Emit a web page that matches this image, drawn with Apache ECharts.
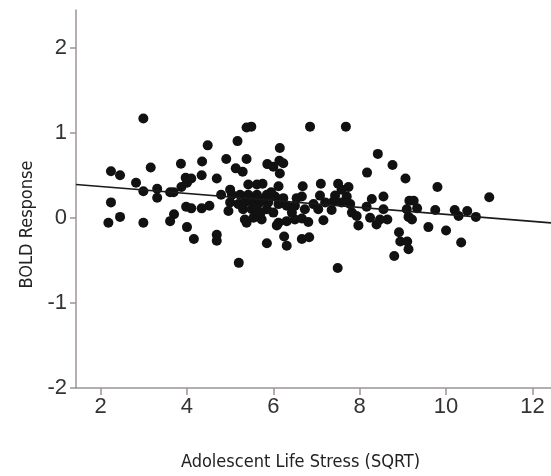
<!DOCTYPE html>
<html>
<head>
<meta charset="utf-8">
<script src="https://cdn.jsdelivr.net/npm/echarts@6/dist/echarts.min.js"></script>
<style>
html,body{margin:0;padding:0;background:#fff;}
#chart{width:551px;height:476px;}
</style>
</head>
<body>
<div id="chart"></div>
<script>
// Tick labels
var xTicks = [2, 4, 6, 8, 10, 12];
var yTicks = [-2, -1, 0, 1, 2];
var xRange = [1.43, 12.43];
var yRange = [-2, 2.44];

// Scatter points: stress (SQRT) values and BOLD responses
var stress = [
  2.24,2.45,2.24,2.18,2.45,2.99,3.16,2.82,2.99,2.99,3.31,3.31,3.61,3.69,3.86,3.87,4.0,3.97,4.1,3.98,4.1,3.70,3.61,4.0,4.16,4.34,4.35,4.48,4.34,4.52,4.69,4.69,4.69,4.79,4.91,
  5.13,5.17,5.29,5.38,5.38,5.49,5.20,5.86,6.0,6.15,6.14,6.23,6.15,
  5.42,5.62,5.75,6.12,5.0,5.04,5.23,5.42,5.62,5.85,6.04,6.23,6.54,5.0,5.19,5.34,5.50,5.69,5.88,6.12,6.31,6.50,4.96,5.30,5.50,5.65,5.85,6.0,6.43,5.34,5.54,5.73,6.12,6.31,6.50,5.38,5.85,6.25,6.31,6.08,
  5.45,5.58,5.78,5.95,5.70,
  6.85,7.68,7.49,8.17,
  6.68,7.10,7.50,7.74,7.58,6.66,7.08,7.43,7.70,8.28,8.55,6.93,7.20,7.39,7.58,7.78,8.16,8.55,7.04,7.35,7.82,7.93,8.24,6.66,6.81,7.16,8.47,8.39,7.97,6.66,6.83,6.73,8.42,8.64,
  8.76,8.80,8.91,8.94,9.06,9.10,9.13,9.09,9.13,9.21,9.25,9.15,9.33,9.59,9.75,9.80,10.0,10.2,10.29,10.35,10.49,10.69,11.0
];
var bold = [
  0.545,0.50,0.18,-0.06,0.01,1.165,0.59,0.41,0.31,-0.06,0.34,0.235,0.30,0.30,0.635,0.36,0.41,0.47,0.46,0.13,0.11,0.04,-0.04,-0.11,-0.25,0.50,0.66,0.85,0.11,0.14,0.46,-0.20,-0.27,0.27,0.69,
  0.58,0.90,0.54,0.69,1.06,1.07,-0.53,0.63,0.60,0.82,0.67,0.64,0.52,
  0.39,0.39,0.40,0.37,0.33,0.27,0.27,0.27,0.27,0.27,0.25,0.23,0.23,0.18,0.16,0.18,0.19,0.18,0.18,0.16,0.14,0.14,0.08,0.10,0.10,0.08,0.10,0.06,0.06,-0.02,0.0,-0.02,-0.06,-0.04,-0.02,-0.06,-0.30,-0.22,-0.33,-0.09,
  0.22,0.13,0.22,0.30,0.05,
  1.07,1.07,-0.59,0.53,
  0.37,0.40,0.40,0.36,0.33,0.25,0.26,0.26,0.25,0.22,0.25,0.16,0.18,0.19,0.18,0.16,0.13,0.10,0.10,0.09,0.06,0.02,0.0,-0.01,-0.05,-0.03,-0.02,-0.08,-0.09,-0.25,-0.23,0.10,0.75,-0.02,
  0.62,-0.45,-0.17,-0.28,0.46,-0.28,-0.37,0.10,0.01,-0.02,0.20,0.20,0.11,-0.11,0.09,0.36,-0.15,0.09,0.02,-0.29,0.08,0.01,0.24
];

// Fit line end points
var fitX = [1.43, 12.43];
var fitY = [0.39, -0.06];

var points = stress.map(function (x, i) { return [x, bold[i]]; });
var fitLine = fitX.map(function (x, i) { return [x, fitY[i]]; });

var axisColor = '#9c9494';
var labelFont = "Arial, 'Liberation Sans', Helvetica, sans-serif";
var nameFont = "'Liberation Sans Narrow', 'Arial Narrow', 'DejaVu Sans Condensed', sans-serif";

var chart = echarts.init(document.getElementById('chart'), null, {renderer: 'canvas'});
chart.setOption({
  animation: false,
  backgroundColor: '#ffffff',
  grid: {left: 76, right: 0, top: 10, bottom: 87, containLabel: false},
  xAxis: {
    type: 'value',
    min: xRange[0], max: xRange[1],
    name: 'Adolescent Life Stress (SQRT)',
    nameLocation: 'middle',
    nameGap: 65,
    nameTextStyle: {fontFamily: nameFont, fontSize: 18, color: '#222', padding: [0, 26, 0, 0]},
    axisLine: {show: true, onZero: false, lineStyle: {color: axisColor, width: 1.5}},
    axisTick: {show: true, length: 7, customValues: xTicks, lineStyle: {color: axisColor, width: 1.5}},
    axisLabel: {customValues: xTicks, margin: 8, fontFamily: labelFont, fontSize: 22, color: '#333'},
    splitLine: {show: false}
  },
  yAxis: {
    type: 'value',
    min: yRange[0], max: yRange[1],
    name: 'BOLD Response',
    nameLocation: 'middle',
    nameGap: 40,
    nameTextStyle: {fontFamily: nameFont, fontSize: 18, color: '#222', padding: [0, 51, 0, 0]},
    axisLine: {show: true, onZero: false, lineStyle: {color: axisColor, width: 1.5}},
    axisTick: {show: true, length: 6, customValues: yTicks, lineStyle: {color: axisColor, width: 1.5}},
    axisLabel: {customValues: yTicks, margin: 9, fontFamily: labelFont, fontSize: 22, color: '#333'},
    splitLine: {show: false}
  },
  series: [
    {
      type: 'scatter',
      data: points,
      symbol: 'circle',
      symbolSize: 10,
      itemStyle: {color: '#111111', opacity: 1},
      z: 3
    },
    {
      type: 'line',
      data: fitLine,
      symbol: 'none',
      lineStyle: {color: '#1a1a1a', width: 1.6},
      z: 4
    }
  ]
});
</script>
</body>
</html>
